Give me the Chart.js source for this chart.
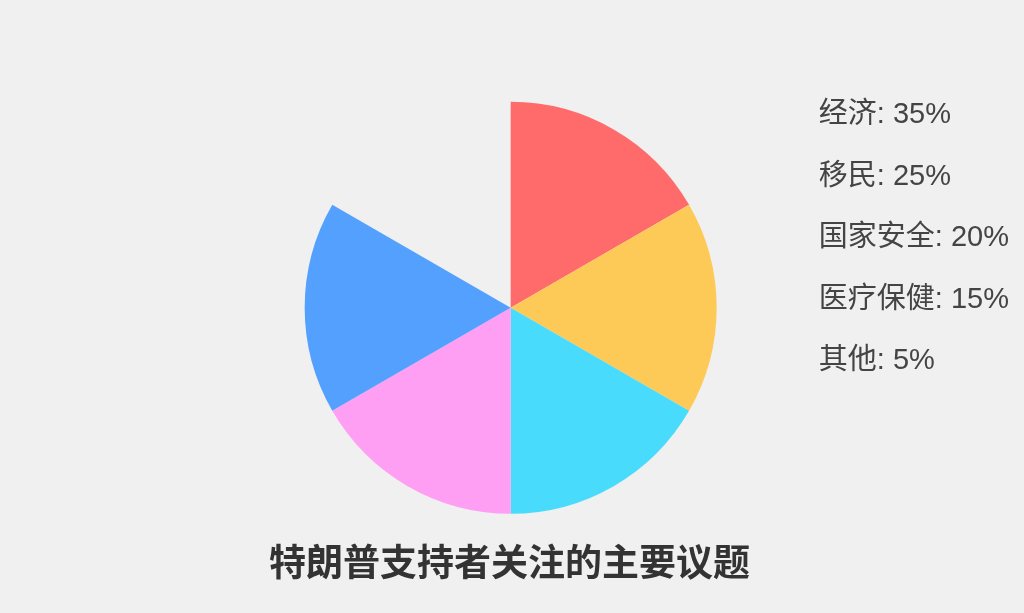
<!DOCTYPE html>
<html>
<head>
<meta charset="utf-8">
<script src="https://cdn.jsdelivr.net/npm/chart.js@4"></script>
<style>
  html, body { margin: 0; padding: 0; background: #f0f0f0; }
  #wrap { width: 1024px; height: 613px; }
</style>
</head>
<body>
<div id="wrap"><canvas id="issues-chart"></canvas></div>
<script>
// Main issues for Trump supporters
const issueLabels = ['经济', '移民', '国家安全', '医疗保健', '其他'];
const issueShares = [35, 25, 20, 15, 5];          // % shown in legend
const sliceDegrees = [60, 60, 60, 60, 60];        // each wedge as drawn
const issueColors = ['#FF6B6B', '#FECA57', '#48DBFB', '#FF9FF3', '#54A0FF'];

const textFont = "'Liberation Sans', Arial, 'Noto Sans CJK SC', sans-serif";

Chart.defaults.font.family = textFont;

const ctx = document.getElementById('issues-chart').getContext('2d');
new Chart(ctx, {
    type: 'pie',
    data: {
        labels: issueLabels,
        datasets: [{
            data: sliceDegrees,
            backgroundColor: issueColors,
            borderWidth: 0,
            radius: 206
        }]
    },
    options: {
        responsive: true,
        maintainAspectRatio: false,
        animation: false,
        circumference: 300,
        layout: {
            padding: { top: 80, left: 0, right: 5, bottom: 0 }
        },
        plugins: {
            tooltip: { enabled: false },
            legend: {
                position: 'right',
                align: 'start',
                labels: {
                    color: '#444',
                    font: { size: 29 },
                    boxWidth: 0,
                    boxHeight: 52.5,
                    padding: 9,
                    generateLabels: function (chart) {
                        return issueLabels.map((label, i) => ({
                            text: label + ': ' + issueShares[i] + '%',
                            fillStyle: 'transparent',
                            strokeStyle: 'transparent',
                            lineWidth: 0,
                            fontColor: '#444',
                            hidden: false,
                            index: i
                        }));
                    }
                }
            },
            // empty box on the left so the pie sits in the middle of the page
            subtitle: {
                display: true,
                position: 'left',
                fullSize: false,
                text: '',
                font: { size: 10 },
                padding: { top: 107, bottom: 107 }
            },
            title: {
                display: true,
                position: 'bottom',
                text: '特朗普支持者关注的主要议题',
                color: '#333',
                font: { size: 37, weight: 'bold' },
                padding: { top: 8, bottom: 25 }
            }
        }
    }
});
</script>
</body>
</html>
